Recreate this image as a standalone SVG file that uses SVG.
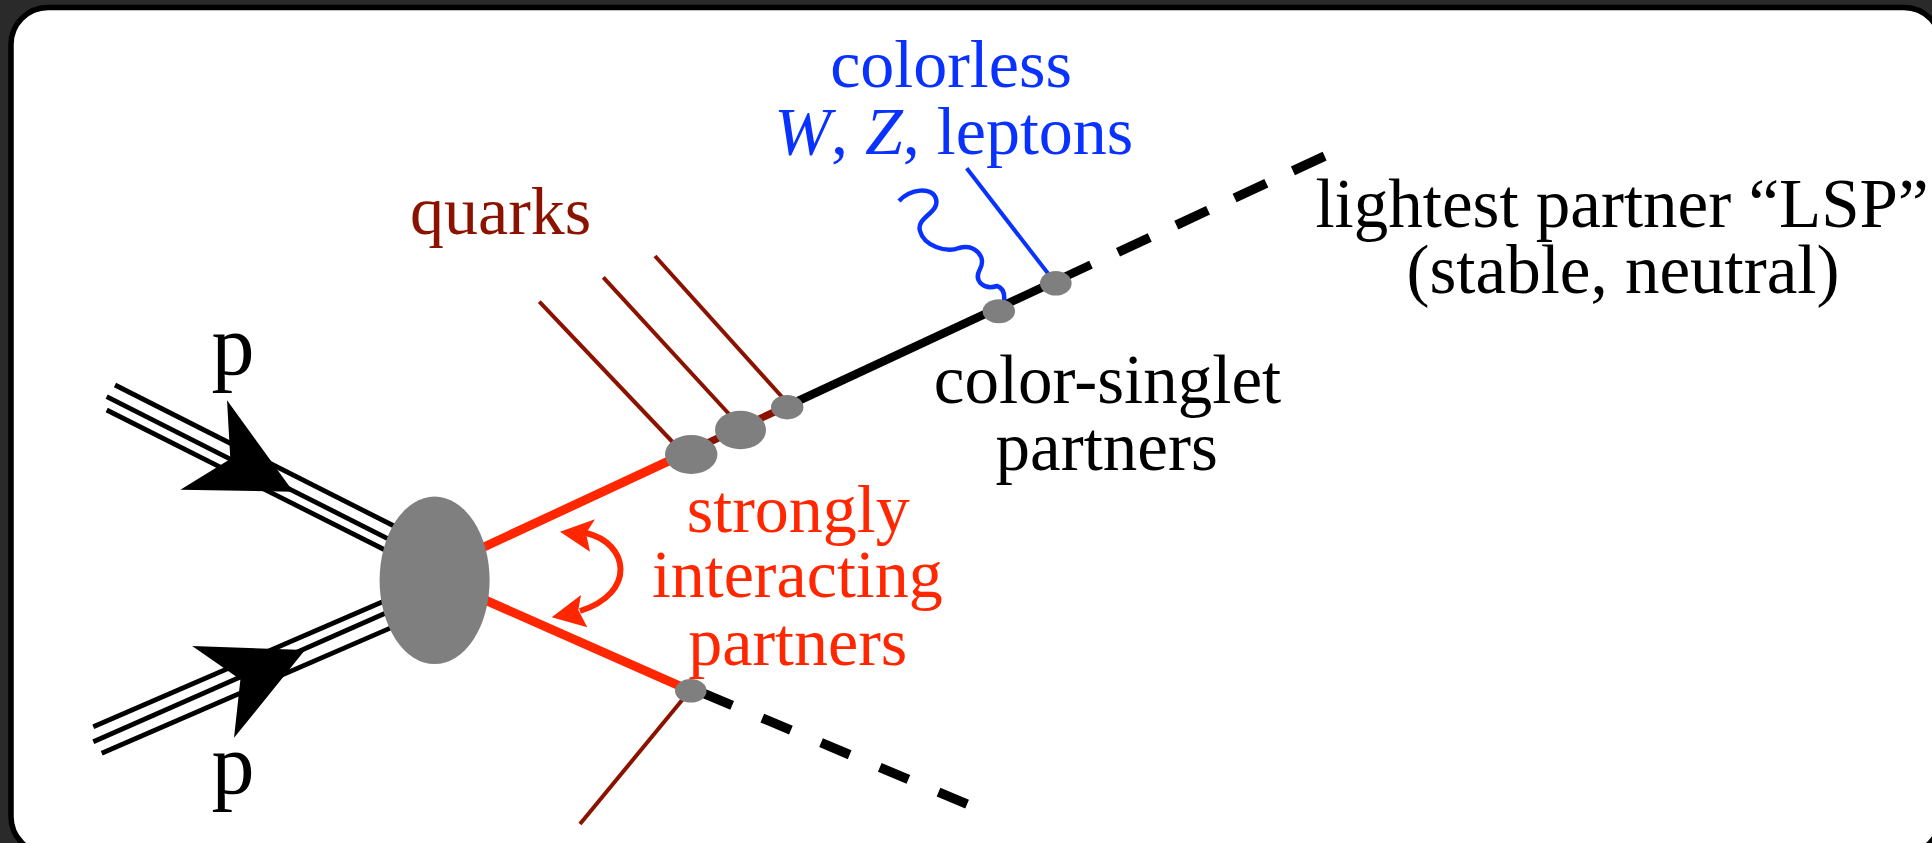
<svg xmlns="http://www.w3.org/2000/svg" xmlns:xlink="http://www.w3.org/1999/xlink" width="1932" height="843" viewBox="0 0 1932 843">
<style>
.t{font-family:"Liberation Serif","Times New Roman",serif;font-size:68px;text-anchor:middle}
.blk{fill:#000}
.red{fill:#ff2600}
.blue{fill:#0a32ff}
.dred{fill:#8c1200}
.pl{stroke:#000;stroke-width:4.8;fill:none}
.q{stroke:#8c1200;stroke-width:4;fill:none}
.v{fill:#7f7f7f}
</style>
<defs>
<path id="parrow" d="M0,0 L-101,-50.5 L-71,0 L-101,50.5 Z" fill="#000"/>
</defs>
<rect x="0" y="0" width="1932" height="843" fill="#2a2a2a"/>
<rect x="11" y="7.5" width="1930" height="846" rx="37" ry="37" fill="#fff" stroke="#000" stroke-width="5.5"/>

<g id="connectors">
  <line class="pl" x1="115" y1="385" x2="400" y2="529"/>
  <line class="pl" x1="106.7" y1="396.7" x2="400" y2="544.8"/>
  <line class="pl" x1="106.7" y1="410" x2="400" y2="557.5"/>
  <line class="pl" x1="93.3" y1="726.7" x2="400" y2="594.2"/>
  <line class="pl" x1="93.3" y1="741.7" x2="400" y2="606.8"/>
  <line class="pl" x1="101.7" y1="753.3" x2="400" y2="623.9"/>
  <use xlink:href="#parrow" transform="translate(293.3,491.7) rotate(27.5)"/>
  <use xlink:href="#parrow" transform="translate(305,650) rotate(-24.5)"/>
  <line x1="470" y1="553.5" x2="691" y2="450.7" stroke="#ff2600" stroke-width="9"/>
  <line x1="691" y1="450.7" x2="787" y2="406.1" stroke="#8c1200" stroke-width="7.5"/>
  <line x1="787" y1="406.1" x2="1091" y2="264.7" stroke="#000" stroke-width="8.5"/>
  <line x1="1118" y1="252.2" x2="1325" y2="155.9" stroke="#000" stroke-width="9.5" stroke-dasharray="35 29.3"/>
  <line x1="470" y1="593.3" x2="690.8" y2="690.8" stroke="#ff2600" stroke-width="9"/>
  <line x1="703.6" y1="693.4" x2="967.6" y2="804.3" stroke="#000" stroke-width="9.5" stroke-dasharray="31 32.7"/>
  <line class="q" x1="539.3" y1="301.7" x2="674" y2="443.5"/>
  <line class="q" x1="603.3" y1="277.3" x2="729" y2="414"/>
  <line class="q" x1="655" y1="256" x2="782.5" y2="397.5"/>
  <line class="q" x1="683" y1="699" x2="580" y2="824"/>
  <line x1="966.7" y1="168.3" x2="1050" y2="276" stroke="#0a32ff" stroke-width="4"/>
  <path d="M899,201 C910,189 932,186 936,199 C940,213 916,217 920,231 C924,246 946,253 959,248 C974,244 987,256 980,269 C973,282 985,290 997,286 C1003,288 1005,294 1004,302" fill="none" stroke="#0a32ff" stroke-width="4.5"/>
  <path d="M586,533 C629,543 637,593 580,611" fill="none" stroke="#ff2600" stroke-width="6"/>
  <polygon points="560,531.7 595,519.3 586,533.3 590,551.7" fill="#ff2600"/>
  <polygon points="551.7,617.3 581,595 578.3,610 587.3,627.3" fill="#ff2600"/>
</g>

<g id="blob"><ellipse class="v" cx="434.6" cy="580.3" rx="55" ry="83.7"/></g>
<g id="vertex1"><ellipse class="v" cx="691.2" cy="454.5" rx="26.2" ry="19.5"/></g>
<g id="vertex2"><ellipse class="v" cx="740.5" cy="430" rx="25.5" ry="19.3"/></g>
<g id="vertex3"><ellipse class="v" cx="787.2" cy="407.2" rx="16.2" ry="12.2"/></g>
<g id="vertex4"><ellipse class="v" cx="998.8" cy="311.3" rx="16.2" ry="12"/></g>
<g id="vertex5"><ellipse class="v" cx="1055.8" cy="283.3" rx="15.8" ry="12.3"/></g>
<g id="vertex6"><ellipse class="v" cx="690.8" cy="690.8" rx="15.8" ry="11.8"/></g>

<g id="label-p-top"><text class="t blk" x="233" y="374" style="font-size:86px">p</text></g>
<g id="label-p-bottom"><text class="t blk" x="233" y="793" style="font-size:86px">p</text></g>
<g id="label-quarks"><text class="t dred" x="500.7" y="234">quarks</text></g>
<g id="label-colorless">
  <text class="t blue" x="951" y="87.3">colorless</text>
  <text class="t blue" x="953.8" y="154"><tspan font-style="italic">W</tspan>, <tspan font-style="italic">Z</tspan>, leptons</text>
</g>
<g id="label-lsp">
  <text class="t blk" x="1622" y="226.7" style="font-size:69px">lightest partner “LSP”</text>
  <text class="t blk" x="1623" y="293" style="font-size:69px">(stable, neutral)</text>
</g>
<g id="label-singlet">
  <text class="t blk" x="1107.5" y="402.7" style="font-size:69px">color-singlet</text>
  <text class="t blk" x="1106.7" y="470" style="font-size:69px">partners</text>
</g>
<g id="label-strong">
  <text class="t red" x="798.3" y="531.7">strongly</text>
  <text class="t red" x="797.3" y="597.3">interacting</text>
  <text class="t red" x="797.8" y="665">partners</text>
</g>
</svg>
